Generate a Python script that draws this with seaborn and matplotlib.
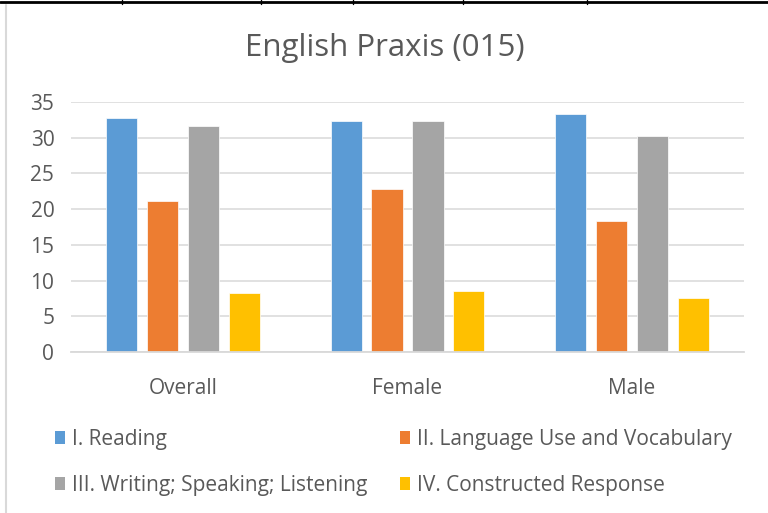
import matplotlib
matplotlib.use("Agg")
import matplotlib.pyplot as plt
from matplotlib.lines import Line2D
from matplotlib.patches import Patch
import seaborn as sns
import pandas as pd

categories = ["Overall", "Female", "Male"]
series = ["I. Reading", "II. Language Use and Vocabulary",
          "III. Writing; Speaking; Listening", "IV. Constructed Response"]
reading = [32.7, 32.4, 33.3]
language = [21.1, 22.8, 18.3]
writing = [31.6, 32.4, 30.3]
constructed = [8.2, 8.6, 7.6]
colors = ["#5B9BD5", "#ED7D31", "#A5A5A5", "#FFC000"]
yticks = [0, 5, 10, 15, 20, 25, 30, 35]
title = "English Praxis (015)"

rows = []
for s, vals in zip(series, [reading, language, writing, constructed]):
    for c, v in zip(categories, vals):
        rows.append({"Group": c, "Section": s, "Score": v})
df = pd.DataFrame(rows)

sns.set_theme(style="white")
plt.rcParams["font.family"] = ["Open Sans", "DejaVu Sans"]
text_color = "#595959"

fig = plt.figure(figsize=(7.68, 5.13), dpi=100)
ax = fig.add_axes([71 / 768, 1 - 352 / 513, (744 - 71) / 768, (352 - 102) / 513])

sns.barplot(data=df, x="Group", y="Score", hue="Section", order=categories,
            hue_order=series, palette=colors, width=0.73, gap=0.24,
            saturation=1, edgecolor="white", linewidth=0.5, ax=ax, legend=False)

ax.set_ylim(0, 35)
ax.set_xlim(-0.5, 2.5)
ax.set_yticks(yticks)
ax.set_yticklabels([str(t) for t in yticks])
ax.set_axisbelow(True)
ax.yaxis.grid(True, color="#D9D9D9", linewidth=1.1)
ax.xaxis.grid(False)
for sp in ["top", "right", "left"]:
    ax.spines[sp].set_visible(False)
ax.spines["bottom"].set_color("#D9D9D9")
ax.spines["bottom"].set_linewidth(1.3)
ax.tick_params(axis="both", length=0, labelsize=15, colors=text_color)
ax.tick_params(axis="x", pad=19)
ax.tick_params(axis="y", pad=12)
ax.set_xlabel("")
ax.set_ylabel("")

fig.text(385 / 768, 1 - 48 / 513, title, ha="center", va="center",
         fontsize=22.5, color=text_color)

handles = [Patch(facecolor=c, edgecolor="none") for c in colors]
legend_kw = dict(loc="upper left", ncol=1, frameon=False, fontsize=15,
                 handlelength=0.5, handleheight=0.6, handletextpad=0.3,
                 labelspacing=1.2, borderpad=0, borderaxespad=0)
leg1 = fig.legend([handles[0], handles[2]], [series[0], series[2]],
                  bbox_to_anchor=(55 / 768, 1 - 429 / 513), **legend_kw)
leg2 = fig.legend([handles[1], handles[3]], [series[1], series[3]],
                  bbox_to_anchor=(400 / 768, 1 - 429 / 513), **legend_kw)
for lg in (leg1, leg2):
    for t in lg.get_texts():
        t.set_color(text_color)

# page decorations: table border on top and chart frame on the left
fig.add_artist(Line2D([0, 1], [1 - 1.5 / 513, 1 - 1.5 / 513], color="black",
                      linewidth=2, transform=fig.transFigure))
for xv in [122, 261, 353, 463, 587]:
    fig.add_artist(Line2D([xv / 768, xv / 768], [1, 1 - 4 / 513], color="black",
                          linewidth=1, transform=fig.transFigure))
fig.add_artist(Line2D([6 / 768, 6 / 768], [1 - 5 / 513, 0], color="#D9D9D9",
                      linewidth=1.5, transform=fig.transFigure))

fig.savefig("out.png", dpi=100)
